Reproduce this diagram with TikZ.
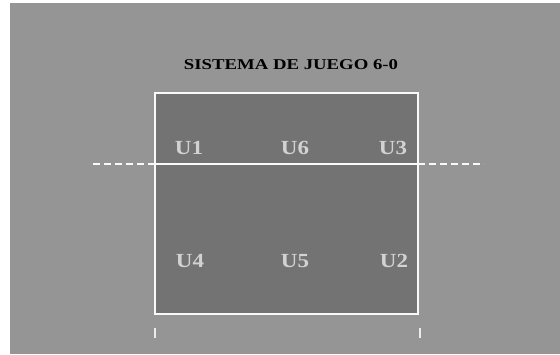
\documentclass[tikz,border=0pt]{standalone}
\usepackage{fontspec}
\setmainfont{Liberation Serif}
\begin{document}
\begin{tikzpicture}[x=1pt,y=-1pt,
  court/.style={draw=white!95!gray,line width=2pt,fill=courtgray},
  player/.style={text=labelgray,font=\fontsize{20}{22}\selectfont\bfseries,inner sep=0pt,xscale=1.15},
  titletext/.style={text=black,font=\fontsize{15}{17}\selectfont\bfseries,inner sep=0pt,xscale=1.25},
  attackline/.style={draw=white!95!gray,line width=1.3pt},
  dashline/.style={draw=white!95!gray,line width=1.3pt,dash pattern=on 7pt off 4pt},
  tick/.style={draw=white!85!gray,line width=2pt}]
\definecolor{bggray}{HTML}{959595}
\definecolor{courtgray}{HTML}{737373}
\definecolor{labelgray}{HTML}{D2D2D2}
\useasboundingbox (0,0) rectangle (560,354);
\fill[white] (0,0) rectangle (560,354);
\fill[bggray] (10,3) rectangle (560,354);
\node[titletext] (title) at (291,65) {SISTEMA DE JUEGO 6-0};
\draw[court] (155,93) rectangle (418,314);
\coordinate (L) at (155,164);
\coordinate (R) at (418,164);
\coordinate (LD) at (93,164);
\coordinate (RD) at (484,164);
\draw[attackline] (L) -- (R);
\draw[dashline] (L) -- (LD);
\draw[dashline] (R) -- (RD);
\node[player] (u1) at (189,148) {U1};
\node[player] (u6) at (295,148) {U6};
\node[player] (u3) at (393,148) {U3};
\node[player] (u4) at (190,261) {U4};
\node[player] (u5) at (295,261) {U5};
\node[player] (u2) at (394,261) {U2};
\coordinate (t1a) at (155,328);
\coordinate (t1b) at (155,338);
\coordinate (t2a) at (420,328);
\coordinate (t2b) at (420,338);
\draw[tick] (t1a) -- (t1b);
\draw[tick] (t2a) -- (t2b);
\end{tikzpicture}
\end{document}
